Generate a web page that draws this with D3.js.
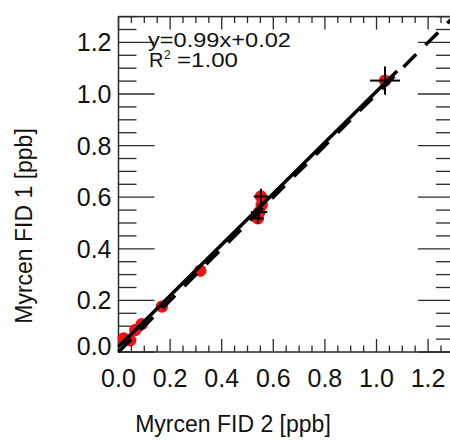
<!DOCTYPE html>
<html><head><meta charset="utf-8">
<script src="https://cdn.jsdelivr.net/npm/d3@7"></script>
<style>
html,body{margin:0;padding:0;background:#fff;overflow:hidden;}
text{font-family:"Liberation Sans",Arial,sans-serif;fill:#111;}
</style></head>
<body>
<svg id="c" width="450" height="441"></svg>
<script>
// Data (Myrcen FID 2 vs FID 1, ppb)
const fid2 = [0.02, 0.045, 0.065, 0.09, 0.168, 0.317, 0.552, 0.555, 0.545, 0.54, 1.033];
const fid1 = [0.053, 0.045, 0.085, 0.108, 0.176, 0.315, 0.603, 0.57, 0.542, 0.518, 1.052];
const errX = [0, 0, 0, 0, 0, 0, 0.028, 0, 0.032, 0.022, 0.058];
const errY = [0, 0, 0, 0, 0, 0, 0.03, 0, 0.03, 0.02, 0.055];
const fitSlope = 0.99, fitIntercept = 0.02;
const fitRange = [0, 1.08];
const axisDomain = [0, 1.3];
const majorTicks = [0.0, 0.2, 0.4, 0.6, 0.8, 1.0, 1.2];
const minorTicks = d3.range(0, 1.3001, 0.05).map(v => +v.toFixed(2));
const xTitle = "Myrcen FID 2 [ppb]";
const yTitle = "Myrcen FID 1 [ppb]";
const eqText = "y=0.99x+0.02";
const r2Value = "=1.00";

const svg = d3.select("#c");
const x0 = 118.5, y0 = 352, ppu = 258;
const x = d3.scaleLinear().domain(axisDomain).range([x0, x0 + 1.3 * ppu]);
const y = d3.scaleLinear().domain(axisDomain).range([y0, y0 - 1.3 * ppu]);
const X1 = x(1.3), Y1 = y(1.3);
const ink = "#2a2a2a";

// frame
svg.append("rect").attr("x", x0).attr("y", Y1).attr("width", X1 - x0).attr("height", y0 - Y1)
  .attr("fill", "none").attr("stroke", ink).attr("stroke-width", 1.5);

const isMajor = v => majorTicks.some(m => Math.abs(m - v) < 1e-6);
const tg = svg.append("g").attr("stroke", ink).attr("stroke-width", 1.3);
minorTicks.forEach(v => {
  const maj = isMajor(v);
  const lh = maj ? 36 : 18;   // ticks on left/right
  const lv = maj ? 13 : 6.5;  // ticks on top/bottom
  tg.append("line").attr("x1", x0).attr("x2", x0 + lh).attr("y1", y(v)).attr("y2", y(v));
  tg.append("line").attr("x1", X1).attr("x2", X1 - lh).attr("y1", y(v)).attr("y2", y(v));
  tg.append("line").attr("y1", y0).attr("y2", y0 - lv).attr("x1", x(v)).attr("x2", x(v));
  tg.append("line").attr("y1", Y1).attr("y2", Y1 + lv).attr("x1", x(v)).attr("x2", x(v));
});

// tick labels
majorTicks.forEach(v => {
  svg.append("text").attr("x", x0 - 7).attr("y", y(v) + (v === 0 ? -6 : 0))
    .attr("dy", "0.36em").attr("text-anchor", "end").attr("font-size", 25).text(v.toFixed(1));
  svg.append("text").attr("x", x(v)).attr("y", 387)
    .attr("text-anchor", "middle").attr("font-size", 25).text(v.toFixed(1));
});

// titles
svg.append("text").attr("x", 233).attr("y", 432).attr("text-anchor", "middle")
  .attr("font-size", 23).text(xTitle);
svg.append("text").attr("transform", "translate(32,226) rotate(-90)").attr("text-anchor", "middle")
  .attr("font-size", 23).text(yTitle);

// points
const pts = fid2.map((v, i) => ({x: v, y: fid1[i], ex: errX[i], ey: errY[i]}));
svg.append("g").selectAll("circle").data(pts).join("circle")
  .attr("cx", d => x(d.x)).attr("cy", d => y(d.y)).attr("r", 6.2).attr("fill", "#f21010");

// error bars
const eg = svg.append("g").attr("stroke", "#000").attr("stroke-width", 2);
pts.filter(d => d.ex > 0 || d.ey > 0).forEach(d => {
  eg.append("line").attr("x1", x(d.x - d.ex)).attr("x2", x(d.x + d.ex)).attr("y1", y(d.y)).attr("y2", y(d.y));
  eg.append("line").attr("x1", x(d.x)).attr("x2", x(d.x)).attr("y1", y(d.y - d.ey)).attr("y2", y(d.y + d.ey));
});

// 1:1 dashed line
svg.append("line").attr("x1", x(0)).attr("y1", y(0)).attr("x2", x(1.3)).attr("y2", y(1.3))
  .attr("stroke", "#000").attr("stroke-width", 3.5).attr("stroke-dasharray", "18,13");
// fit line
svg.append("line").attr("x1", x(fitRange[0])).attr("y1", y(fitSlope * fitRange[0] + fitIntercept))
  .attr("x2", x(fitRange[1])).attr("y2", y(fitSlope * fitRange[1] + fitIntercept))
  .attr("stroke", "#000").attr("stroke-width", 3.5);

// annotation
svg.append("text").attr("x", 148).attr("y", 47).attr("font-size", 20)
  .attr("textLength", 143).attr("lengthAdjust", "spacingAndGlyphs").text(eqText);
svg.append("text").attr("x", 149).attr("y", 66.5).attr("font-size", 20).text("R");
svg.append("text").attr("x", 164).attr("y", 59).attr("font-size", 12).text("2");
svg.append("text").attr("x", 177).attr("y", 66.5).attr("font-size", 20)
  .attr("textLength", 61).attr("lengthAdjust", "spacingAndGlyphs").text(r2Value);
</script>
</body></html>
